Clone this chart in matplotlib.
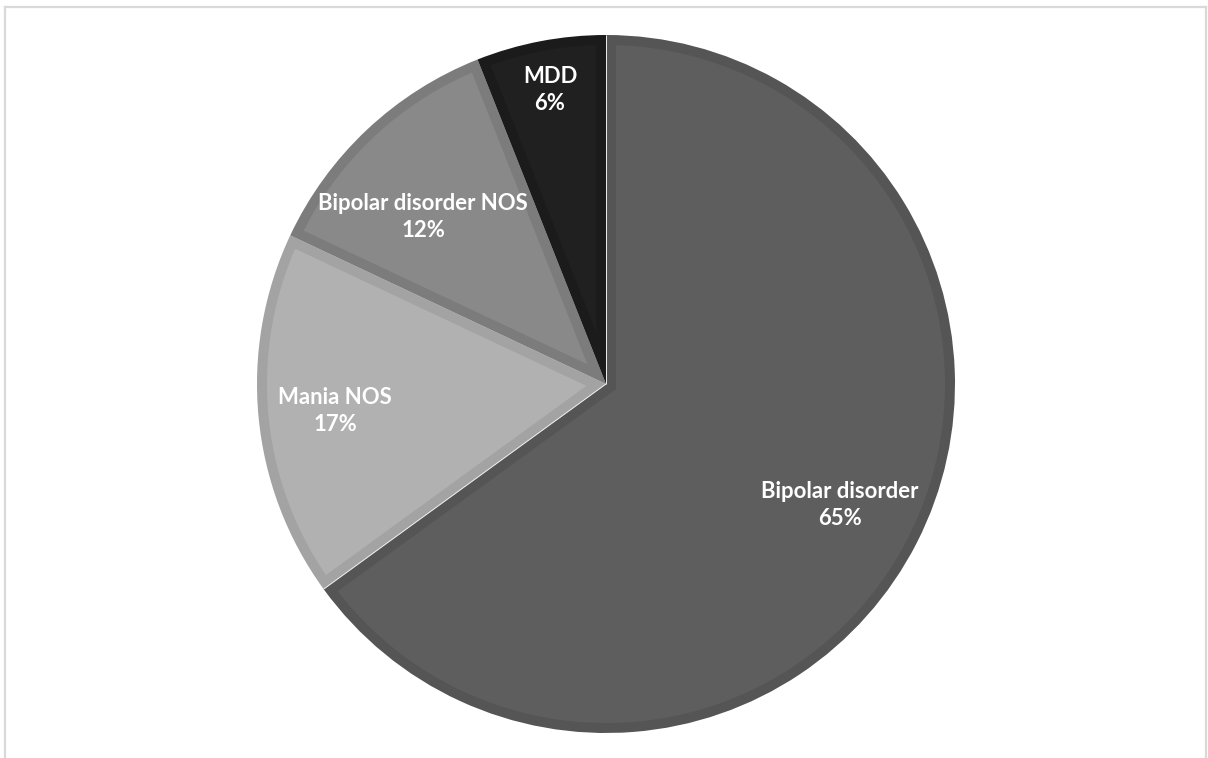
import numpy as np
import matplotlib.pyplot as plt
from matplotlib.lines import Line2D
from matplotlib.patches import Polygon

# Данные
labels = ["Bipolar disorder", "Mania NOS", "Bipolar disorder NOS", "MDD"]
shares = [65, 17, 12, 6]
fill_colors = ["#5e5e5e", "#b1b1b1", "#898989", "#202020"]
edge_colors = ["#555555", "#a3a3a3", "#7c7c7c", "#1b1b1b"]
# положения подписей (пиксели, y сверху)
label_pos = [(840, 505), (335, 411), (423, 217), (550, 90)]

W, H = 1208, 758
CX, CY, R = 606, H - 384, 349
INSET = 10
TEXT_W = 158  # ширина "Bipolar disorder" на исходной картинке, px


def inset_polygon(cx, cy, r, t1, t2, d):
    """Внутренний контур сектора, отступ d пикселей"""
    a1, a2 = np.radians(t1), np.radians(t2)
    half = (a2 - a1) / 2
    mid = a1 + half
    k = d / np.sin(half)
    apex = (cx + k * np.cos(mid), cy + k * np.sin(mid))
    delta = np.arcsin(d / (r - d))
    ang = np.linspace(a1 + delta, a2 - delta, 200)
    pts = [apex] + list(zip(cx + (r - d) * np.cos(ang), cy + (r - d) * np.sin(ang)))
    return np.array(pts)


fig = plt.figure(figsize=(W / 100, H / 100), dpi=100)
ax = fig.add_axes([0, 0, 1, 1])

wedges, _ = ax.pie(shares, colors=edge_colors, startangle=90, counterclock=False,
                   center=(CX, CY), radius=R, frame=True,
                   wedgeprops=dict(linewidth=0))
ax.set_xlim(0, W)
ax.set_ylim(0, H)
ax.set_aspect("equal")
ax.axis("off")

for w, fc in zip(wedges, fill_colors):
    pts = inset_polygon(CX, CY, R, w.theta1, w.theta2, INSET)
    ax.add_patch(Polygon(pts, closed=True, facecolor=fc, edgecolor="none"))

# светлые линии по краям большого сектора
big = wedges[0]
for t in (big.theta1, big.theta2):
    a = np.radians(t)
    ax.plot([CX, CX + R * np.cos(a)], [CY, CY + R * np.sin(a)],
            color="#eeeeee", linewidth=0.7, solid_capstyle="butt")

# подбираем размер шрифта под ширину подписи
probe = ax.text(0, 0, labels[0], fontsize=14, fontweight="bold", family="Lato")
renderer = fig.canvas.get_renderer()
fs = 14 * TEXT_W / probe.get_window_extent(renderer).width
probe.remove()

for lab, val, (x, y) in zip(labels, shares, label_pos):
    ax.text(x, H - y, f"{lab}\n{val}%", ha="center", va="center", color="white",
            fontsize=fs, fontweight="bold", family="Lato", linespacing=1.4)

# рамка
frame_color = "#d9d9d9"
for xs, ys in [([4.5, 4.5], [H, 6.5]), ([4.5, 1206], [6.5, 6.5]), ([1206, 1206], [H, 6.5])]:
    fig.add_artist(Line2D([x / W for x in xs], [1 - y / H for y in ys],
                          transform=fig.transFigure, color=frame_color, linewidth=1.6))

fig.savefig("out.png", dpi=100, facecolor="white")
